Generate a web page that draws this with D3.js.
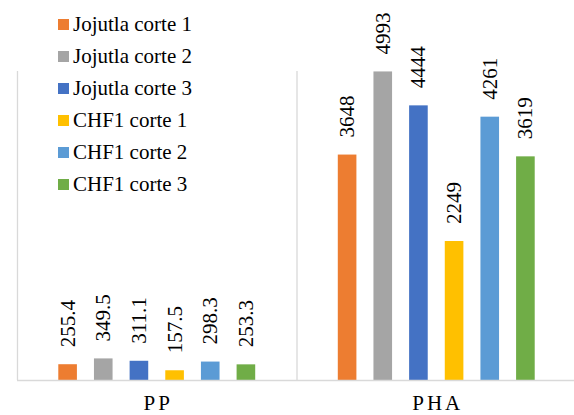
<!DOCTYPE html>
<html>
<head>
<meta charset="utf-8">
<script src="https://cdn.jsdelivr.net/npm/d3@7"></script>
<style>
  html, body { margin: 0; padding: 0; background: #fff; }
  svg { display: block; }
</style>
</head>
<body>
<svg id="chart" width="574" height="415"></svg>
<script>
const categories = ["PP", "PHA"];
const seriesNames = ["Jojutla corte 1", "Jojutla corte 2", "Jojutla corte 3", "CHF1 corte 1", "CHF1 corte 2", "CHF1 corte 3"];
const seriesColors = ["#ED7D31", "#A5A5A5", "#4472C4", "#FFC000", "#5B9BD5", "#70AD47"];
const ppValues = [255.4, 349.5, 311.1, 157.5, 298.3, 253.3];
const phaValues = [3648, 4993, 4444, 2249, 4261, 3619];
const yDomain = [0, 5000];

const valuesByCategory = { "PP": ppValues, "PHA": phaValues };
const FONT = "'Liberation Serif', 'Times New Roman', Tinos, 'DejaVu Serif', serif";

const svg = d3.select("#chart");
const plot = { left: 17, right: 576, top: 71, bottom: 380 };

const x0 = d3.scaleBand().domain(categories).range([plot.left, plot.right]).paddingInner(0).paddingOuter(0);
const x1 = d3.scaleBand().domain(seriesNames).range([0, x0.bandwidth()]).paddingInner(0.478).paddingOuter(1.158);
const y = d3.scaleLinear().domain(yDomain).range([plot.bottom, plot.top]);

const gridColor = "#d9d9d9";
svg.append("g").selectAll("line")
  .data(categories)
  .join("line")
  .attr("x1", d => x0(d) + 0.5)
  .attr("x2", d => x0(d) + 0.5)
  .attr("y1", plot.top)
  .attr("y2", plot.bottom)
  .attr("stroke", gridColor)
  .attr("stroke-width", 1.3);

const groups = svg.append("g").selectAll("g")
  .data(categories)
  .join("g")
  .attr("transform", d => `translate(${x0(d)},0)`);

groups.selectAll("rect")
  .data(c => valuesByCategory[c].map((v, i) => ({ v, i, name: seriesNames[i] })))
  .join("rect")
  .attr("x", d => x1(d.name))
  .attr("width", x1.bandwidth())
  .attr("y", d => y(d.v))
  .attr("height", d => y(0) - y(d.v))
  .attr("fill", d => seriesColors[d.i]);

groups.selectAll("text.lbl")
  .data(c => valuesByCategory[c].map((v, i) => ({ v, i, name: seriesNames[i] })))
  .join("text")
  .attr("class", "lbl")
  .attr("transform", d => `translate(${x1(d.name) + x1.bandwidth() / 2 + 7},${y(d.v) - 17}) rotate(-90)`)
  .attr("text-anchor", "start")
  .attr("font-family", FONT)
  .attr("font-size", 21)
  .attr("fill", "#000")
  .text(d => String(d.v));

svg.append("line")
  .attr("x1", plot.left).attr("x2", plot.right)
  .attr("y1", plot.bottom + 0.5).attr("y2", plot.bottom + 0.5)
  .attr("stroke", gridColor).attr("stroke-width", 1.3);

svg.append("g").selectAll("text")
  .data(categories)
  .join("text")
  .attr("x", d => x0(d) + x0.bandwidth() / 2 + 1.5)
  .attr("y", 410)
  .attr("text-anchor", "middle")
  .attr("font-family", FONT)
  .attr("font-size", 21)
  .attr("letter-spacing", 3)
  .attr("fill", "#000")
  .text(d => d);

const legend = svg.append("g").selectAll("g")
  .data(seriesNames)
  .join("g")
  .attr("transform", (d, i) => `translate(58,${19 + i * 32})`);
legend.append("rect")
  .attr("width", 11).attr("height", 11)
  .attr("fill", (d, i) => seriesColors[i]);
legend.append("text")
  .attr("x", 15)
  .attr("y", 12)
  .attr("font-family", FONT)
  .attr("font-size", 21)
  .attr("fill", "#000")
  .text(d => d);
</script>
</body>
</html>
